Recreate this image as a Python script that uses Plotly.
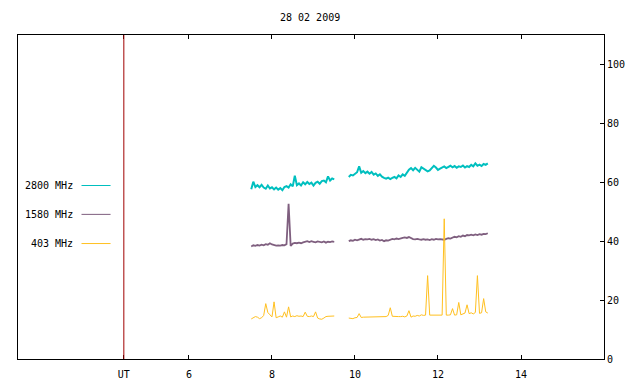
import plotly.graph_objects as go

# Time grids (UT hours) for the two observing segments
t_seg1 = [7.50, 7.55, 7.60, 7.65, 7.70, 7.75, 7.80, 7.85, 7.90, 7.95,
          8.00, 8.05, 8.10, 8.15, 8.20, 8.25, 8.30, 8.35, 8.40, 8.45,
          8.50, 8.55, 8.60, 8.65, 8.70, 8.75, 8.80, 8.85, 8.90, 8.95,
          9.00, 9.05, 9.10, 9.15, 9.20, 9.25, 9.30, 9.35, 9.40, 9.45, 9.50]
t_seg2 = [9.85, 9.90, 9.95,
          10.00, 10.05, 10.10, 10.15, 10.20, 10.25, 10.30, 10.35, 10.40, 10.45,
          10.50, 10.55, 10.60, 10.65, 10.70, 10.75, 10.80, 10.85, 10.90, 10.95,
          11.00, 11.05, 11.10, 11.15, 11.20, 11.25, 11.30, 11.35, 11.40, 11.45,
          11.50, 11.55, 11.60, 11.65, 11.70, 11.75, 11.80, 11.85, 11.90, 11.95,
          12.00, 12.05, 12.10, 12.15, 12.20, 12.25, 12.30, 12.35, 12.40, 12.45,
          12.50, 12.55, 12.60, 12.65, 12.70, 12.75, 12.80, 12.85, 12.90, 12.95,
          13.00, 13.05, 13.10, 13.15, 13.20]

f2800_seg1 = [57.6, 60.2, 58.4, 59.0, 58.3, 59.1, 58.2, 57.8, 58.9, 57.9,
              58.3, 57.6, 58.2, 57.5, 58.0, 57.3, 58.4, 58.7, 58.2, 59.3,
              58.6, 62.2, 59.0, 59.6, 58.9, 60.0, 59.3, 60.1, 59.4, 59.9,
              58.9, 59.8, 60.2, 59.5, 60.4, 60.6, 60.0, 62.0, 60.6, 61.3, 61.0]
f2800_seg2 = [61.8, 62.5, 62.3,
              62.9, 63.4, 65.4, 63.2, 63.8, 63.1, 63.6, 62.9, 63.5, 62.6,
              63.0, 62.2, 62.7, 61.9, 61.5, 61.2, 61.6, 61.1, 61.5, 61.8,
              61.3, 62.3, 61.8, 62.7, 62.2, 63.3, 64.3, 64.8, 64.1, 64.9,
              64.4, 63.6, 65.1, 64.6, 64.2, 63.7, 64.0, 64.8, 65.6, 65.0,
              64.2, 64.6, 64.9, 65.4, 64.8, 65.3, 65.6, 65.1, 65.5, 64.9,
              65.4, 65.2, 65.7, 65.0, 65.5, 65.2, 65.9, 65.4, 66.4, 65.6,
              66.0, 65.5, 66.2, 65.9, 66.4]

f1580_seg1 = [38.2, 38.6, 38.4, 38.7, 38.5, 38.8, 38.6, 39.0, 38.8, 39.3,
              38.9, 38.7, 38.5, 38.6, 38.5, 38.7, 38.6, 39.0, 52.7, 38.4,
              39.2, 39.4, 39.3, 39.5, 39.3, 39.6, 39.8, 40.0, 39.7, 40.0,
              39.8, 39.6, 39.9, 39.7, 39.6, 39.9, 39.5, 39.8, 39.7, 39.9, 39.8]
f1580_seg2 = [40.0, 40.3, 40.1,
              40.5, 40.3, 40.6, 40.8, 40.5, 40.7, 40.6, 40.8, 40.5, 40.7,
              40.4, 40.6, 40.2, 40.4, 40.0, 40.3, 40.2, 40.6, 40.8, 40.6,
              40.9, 40.7, 41.0, 41.1, 41.3, 41.1, 41.4, 41.0, 40.7, 40.6,
              40.8, 40.6, 40.5, 40.7, 40.5, 40.6, 40.4, 40.7, 40.5, 40.8,
              40.6, 40.7, 40.6, 40.5, 40.8, 41.0, 40.9, 41.2, 41.5, 41.3,
              41.7, 41.5, 41.9, 41.7, 42.1, 42.0, 42.2, 42.0, 42.3, 42.1,
              42.4, 42.2, 42.5, 42.4, 42.7]

f403_seg1 = [13.6, 14.0, 14.4, 14.2, 13.7, 14.0, 14.8, 18.8, 15.8, 15.0,
             14.3, 19.4, 14.0, 14.3, 14.6, 14.2, 16.0, 14.2, 17.7, 14.3,
             14.6, 14.4, 14.7, 14.5, 14.6, 14.4, 15.9, 14.5, 14.4, 14.6,
             14.4, 16.0, 13.9, 13.6, 13.5, 13.9, 14.4, 14.5, 14.6, 14.6, 14.6]
f403_seg2 = [13.9, 13.9, 13.7,
             14.0, 14.1, 15.4, 14.1, 14.2, 14.2, 14.4, 14.3, 14.4, 14.3,
             14.3, 14.3, 14.4, 14.4, 14.3, 14.4, 14.8, 17.4, 14.5, 14.4,
             14.3, 14.4, 14.4, 14.5, 14.3, 14.6, 16.4, 14.2, 14.6, 14.5,
             14.8, 14.6, 15.0, 14.8, 14.9, 28.3, 14.9, 14.9, 15.0, 14.9,
             14.9, 15.0, 14.9, 47.6, 14.9, 14.9, 15.0, 17.1, 14.9, 15.0,
             19.2, 15.0, 15.2, 15.6, 18.4, 15.4, 15.7, 15.3, 15.8, 28.3,
             15.5, 15.7, 20.5, 16.0, 15.6]

series_names = ["2800 MHz", "1580 MHz", "403 MHz"]
series_colors = ["#00bfbf", "#7f5f7f", "#ffc020"]
series_widths = [2, 1.8, 1]
x_ticks = [4.43, 6, 8, 10, 12, 14]
x_tick_text = ["UT", "6", "8", "10", "12", "14"]
y_ticks = [0, 20, 40, 60, 80, 100]
title_text = "28 02 2009"
ut_marker = 4.43

FONT = dict(family="DejaVu Sans Mono", size=10, color="black")

fig = go.Figure()
x_all = t_seg1 + [None] + t_seg2
for vals1, vals2, name, col, w in [
    (f2800_seg1, f2800_seg2, series_names[0], series_colors[0], series_widths[0]),
    (f1580_seg1, f1580_seg2, series_names[1], series_colors[1], series_widths[1]),
    (f403_seg1, f403_seg2, series_names[2], series_colors[2], series_widths[2]),
]:
    fig.add_trace(go.Scatter(x=x_all, y=vals1 + [None] + vals2, mode="lines",
                             name=name, line=dict(color=col, width=w),
                             connectgaps=False, showlegend=False))

# red UT marker line
fig.add_shape(type="line", x0=ut_marker, x1=ut_marker, y0=0, y1=110,
              xref="x", yref="y", line=dict(color="#a00000", width=1))

# manual gnuplot-style key
key_y = [58.9, 49.1, 39.2]
for name, col, ky in zip(series_names, series_colors, key_y):
    fig.add_annotation(x=3.25, y=ky, xref="x", yref="y", text=name,
                       showarrow=False, xanchor="right", yanchor="middle",
                       font=FONT)
    fig.add_shape(type="line", x0=3.41, x1=4.11, y0=ky, y1=ky,
                  xref="x", yref="y", line=dict(color=col, width=1))

fig.update_layout(
    width=632, height=376,
    margin=dict(l=10, r=36, t=27, b=25, autoexpand=False),
    paper_bgcolor="white", plot_bgcolor="white",
    font=FONT,
    title=dict(text=title_text, x=0.478, xanchor="center", y=0.976, yanchor="middle",
               font=FONT),
)
fig.update_xaxes(range=[1.88, 16.0], tickvals=x_ticks, ticktext=x_tick_text,
                 ticks="inside", ticklen=4, tickcolor="black",
                 showline=True, linecolor="black", linewidth=1, mirror="allticks",
                 showgrid=False, zeroline=False, tickfont=FONT,
                 ticklabelstandoff=6, automargin=False)
fig.update_yaxes(range=[0, 110], tickvals=y_ticks, side="right",
                 ticks="inside", ticklen=4, tickcolor="black",
                 showline=True, linecolor="black", linewidth=1, mirror=True,
                 showgrid=False, zeroline=False, tickfont=FONT, automargin=False)

fig.write_html("out.html")
